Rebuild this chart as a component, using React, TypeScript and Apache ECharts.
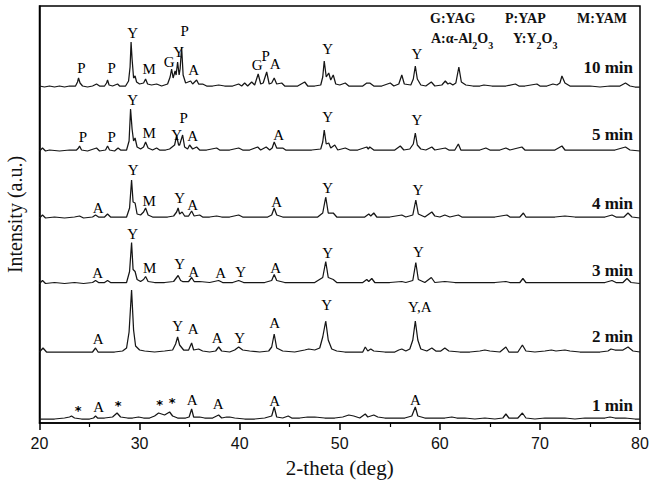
import React, { useEffect, useRef } from "react";
import * as echarts from "echarts";

// sample names (bottom to top)
const sampleNames = ["1 min", "2 min", "3 min", "4 min", "5 min", "10 min"];

// XRD traces: [2-theta (deg), intensity above the trace's own baseline (a.u.)]
const trace1min: [number, number][] = [
  [20.0, 0], [20.5, 0], [21.5, 0], [22.5, 1], [23.0, 2], [23.2, 3], [23.5, 1], [24.2, 0], [25.0, 0], [25.4, 1], [25.6, 3], [25.8, 1],
  [26.5, 1], [27.3, 2], [27.75, 6], [28.1, 2], [28.8, 1], [29.3, 1], [29.9, 2], [30.4, 1], [31.0, 1], [31.5, 3], [31.9, 6], [32.2, 5],
  [32.5, 4], [33.0, 7], [33.3, 3], [33.8, 1], [34.6, 1], [34.95, 2], [35.2, 10], [35.4, 2], [36.0, 2], [36.5, 1], [37.3, 1], [37.9, 4],
  [38.2, 1], [38.7, 2], [39.0, 2], [39.5, 1], [40.5, 0], [41.5, 0], [42.5, 1], [43.2, 3], [43.45, 12], [43.7, 2], [44.3, 1], [44.85, 3],
  [45.2, 1], [46.0, 1], [46.8, 2], [47.5, 2], [48.5, 1], [49.5, 1], [50.3, 2], [50.9, 4], [51.4, 3], [52.0, 1], [52.55, 5], [52.8, 2],
  [53.4, 4], [53.8, 2], [54.5, 1], [55.5, 1], [56.5, 1], [57.2, 3], [57.55, 12], [57.8, 3], [58.5, 1], [59.5, 1], [60.5, 1], [61.2, 2],
  [61.7, 1], [62.5, 1], [63.5, 0], [64.5, 1], [65.5, 0], [66.3, 1], [66.6, 5], [66.9, 1], [67.8, 1], [68.25, 6], [68.6, 1], [69.5, 0],
  [70.5, 1], [71.5, 1], [72.5, 1], [73.5, 0], [74.5, 1], [75.5, 1], [76.5, 1], [77.0, 2], [77.5, 1], [78.5, 1], [79.5, 0], [80.0, 0],
];
const trace2min: [number, number][] = [
  [20.0, 0], [20.35, 4], [20.7, 0], [21.5, 0], [22.5, 0], [23.5, 0], [24.5, 0], [25.3, 0], [25.6, 4], [25.85, 0], [26.5, 0], [27.5, 0],
  [28.3, 1], [28.7, 4], [28.95, 20], [29.2, 62], [29.4, 22], [29.6, 6], [30.0, 2], [30.5, 1], [31.5, 0], [32.5, 1], [33.3, 2], [33.6, 8],
  [33.8, 15], [34.0, 7], [34.4, 2], [34.9, 2], [35.2, 9], [35.4, 2], [35.9, 3], [36.3, 1], [37.0, 0], [37.6, 1], [37.9, 5], [38.2, 1],
  [39.0, 0], [39.5, 2], [39.9, 5], [40.3, 2], [41.0, 1], [42.0, 0], [42.9, 1], [43.2, 5], [43.45, 18], [43.7, 4], [44.3, 1], [45.5, 0],
  [46.5, 2], [46.9, 3], [47.5, 2], [48.0, 4], [48.3, 15], [48.6, 31], [48.85, 12], [49.2, 3], [49.7, 1], [50.5, 0], [51.5, 0], [52.3, 0],
  [52.55, 5], [52.8, 1], [53.1, 3], [53.4, 1], [54.5, 0], [55.5, 0], [55.9, 2], [56.2, 3], [56.6, 1], [57.0, 3], [57.3, 12], [57.55, 31],
  [57.8, 12], [58.1, 3], [58.7, 1], [59.2, 4], [59.6, 1], [60.1, 1], [60.5, 4], [60.9, 1], [62.0, 0], [63.0, 0], [64.0, 1], [64.5, 2],
  [65.0, 1], [66.0, 0], [66.6, 5], [66.9, 0], [67.8, 0], [68.25, 7], [68.6, 1], [69.5, 0], [70.5, 1], [71.15, 2], [71.6, 1], [72.5, 2],
  [73.0, 1], [74.0, 0], [75.0, 0], [76.0, 0], [76.8, 1], [77.1, 3], [77.5, 2], [78.3, 2], [78.8, 5], [79.3, 1], [80.0, 0],
];
const trace3min: [number, number][] = [
  [20.0, 0], [20.3, 3], [20.6, 0], [21.5, 1], [22.5, 0], [23.5, 1], [24.4, 0], [25.3, 1], [25.6, 3], [25.9, 1], [26.5, 1], [26.8, 3],
  [27.1, 1], [28.0, 1], [28.7, 1], [29.0, 12], [29.2, 41], [29.35, 14], [29.55, 12], [29.75, 4], [30.1, 2], [30.4, 4], [30.6, 7],
  [30.85, 2], [31.5, 1], [32.5, 1], [33.4, 2], [33.85, 8], [34.1, 3], [34.3, 2], [34.9, 2], [35.2, 6], [35.45, 2], [36.0, 2], [37.0, 1],
  [37.9, 3], [38.3, 1], [39.3, 1], [39.9, 3], [40.4, 1], [41.5, 1], [42.5, 1], [43.2, 3], [43.45, 9], [43.7, 3], [44.5, 1], [45.5, 1],
  [46.5, 1], [47.5, 1], [48.3, 6], [48.6, 22], [48.85, 6], [49.35, 4], [49.7, 1], [50.5, 1], [51.5, 1], [52.3, 1], [52.7, 4], [52.9, 2],
  [53.2, 5], [53.5, 1], [55.0, 1], [56.2, 2], [56.6, 1], [57.3, 3], [57.6, 21], [57.85, 4], [58.5, 1], [59.15, 6], [59.5, 1], [60.5, 2],
  [61.5, 1], [62.5, 1], [63.5, 1], [64.5, 1], [65.5, 1], [66.6, 2], [67.0, 1], [68.0, 1], [68.3, 5], [68.6, 1], [69.5, 1], [70.5, 1],
  [71.5, 1], [72.5, 1], [73.5, 1], [74.5, 1], [75.5, 1], [76.5, 1], [77.2, 3], [77.6, 1], [78.3, 1], [78.7, 5], [79.1, 1], [80.0, 0],
];
const trace4min: [number, number][] = [
  [20.0, 0], [20.3, 3], [20.6, 0], [21.5, 1], [22.5, 0], [23.5, 1], [24.0, 2], [24.4, 0], [25.3, 1], [25.6, 3], [25.9, 1], [26.5, 1],
  [26.8, 4], [27.1, 1], [28.0, 1], [28.7, 1], [29.0, 10], [29.2, 38], [29.35, 16], [29.55, 15], [29.75, 4], [30.1, 3], [30.4, 6],
  [30.6, 10], [30.85, 3], [31.3, 1], [32.0, 1], [32.8, 1], [33.4, 2], [33.7, 6], [33.85, 10], [34.0, 4], [34.25, 6], [34.5, 2], [34.9, 2],
  [35.2, 7], [35.45, 2], [36.0, 3], [36.3, 1], [37.0, 1], [37.7, 2], [38.2, 1], [39.0, 1], [39.9, 3], [40.3, 1], [41.0, 1], [42.0, 1],
  [42.8, 1], [43.2, 3], [43.45, 10], [43.7, 3], [44.3, 1], [45.0, 1], [46.0, 1], [47.0, 1], [47.8, 1], [48.3, 5], [48.6, 21], [48.85, 5],
  [49.35, 5], [49.7, 1], [50.5, 1], [51.5, 1], [52.5, 1], [52.9, 4], [53.1, 2], [53.4, 5], [53.7, 1], [55.0, 1], [56.2, 3], [56.6, 1],
  [57.3, 3], [57.6, 18], [57.85, 4], [58.5, 1], [59.2, 6], [59.5, 2], [60.0, 1], [60.5, 3], [61.0, 1], [61.85, 3], [62.2, 1], [63.5, 1],
  [64.5, 1], [65.5, 1], [66.7, 3], [67.0, 1], [68.0, 1], [68.35, 5], [68.6, 1], [69.5, 1], [70.5, 1], [71.5, 1], [72.5, 2], [73.5, 1],
  [74.5, 1], [75.5, 1], [76.5, 1], [77.2, 3], [77.6, 1], [78.4, 1], [78.8, 5], [79.2, 1], [80.0, 0],
];
const trace5min: [number, number][] = [
  [20.0, 0], [20.3, 3], [20.6, 0], [21.0, 1], [22.0, 0], [23.0, 1], [23.7, 1], [23.9, 3], [24.0, 5], [24.2, 1], [24.8, 0], [25.7, 3],
  [26.0, 0], [26.6, 1], [26.8, 5], [27.0, 1], [27.5, 0], [27.85, 3], [28.1, 1], [28.7, 1], [28.95, 10], [29.1, 42], [29.25, 22],
  [29.4, 10], [29.55, 13], [29.75, 4], [30.1, 2], [30.4, 4], [30.6, 9], [30.85, 3], [31.3, 1], [31.7, 3], [32.0, 1], [32.6, 1], [33.0, 2],
  [33.5, 6], [33.7, 15], [33.9, 6], [34.0, 6], [34.3, 16], [34.5, 4], [34.8, 2], [35.0, 6], [35.3, 2], [35.7, 4], [36.0, 1], [36.7, 1],
  [37.7, 3], [38.0, 1], [39.0, 1], [39.9, 3], [40.3, 1], [41.0, 1], [41.8, 4], [42.1, 1], [42.65, 4], [43.0, 1], [43.25, 3], [43.45, 9],
  [43.7, 3], [44.3, 3], [44.6, 1], [45.5, 1], [46.5, 1], [47.2, 1], [48.1, 2], [48.3, 9], [48.45, 21], [48.65, 7], [48.9, 8], [49.1, 3],
  [49.5, 6], [49.8, 1], [50.55, 3], [51.0, 1], [51.8, 1], [52.7, 4], [52.85, 2], [53.0, 4], [53.4, 1], [54.5, 1], [55.5, 1], [56.05, 5],
  [56.4, 1], [57.0, 2], [57.35, 7], [57.55, 18], [57.75, 6], [58.1, 2], [58.6, 1], [59.2, 4], [59.5, 1], [60.55, 3], [60.9, 1], [61.5, 1],
  [61.85, 7], [62.1, 1], [63.0, 1], [64.0, 1], [64.6, 3], [65.0, 1], [66.0, 1], [66.6, 3], [67.0, 1], [68.2, 4], [68.5, 1], [69.5, 1],
  [70.5, 1], [71.5, 1], [72.2, 5], [72.5, 1], [73.5, 1], [74.5, 1], [75.5, 1], [76.5, 1], [77.5, 1], [78.55, 4], [79.0, 1], [80.0, 0],
];
const trace10min: [number, number][] = [
  [20.0, 1], [20.5, 0], [21.0, 1], [21.5, 0], [22.0, 1], [22.5, 0], [23.0, 1], [23.6, 1], [23.8, 5], [23.9, 9], [24.05, 4], [24.3, 1],
  [24.8, 0], [25.3, 1], [25.7, 3], [26.0, 1], [26.5, 1], [26.7, 4], [26.8, 7], [26.95, 2], [27.3, 1], [27.8, 3], [28.0, 1], [28.6, 1],
  [28.9, 6], [29.05, 20], [29.15, 45], [29.25, 28], [29.4, 9], [29.55, 11], [29.7, 5], [30.0, 3], [30.4, 4], [30.6, 8], [30.8, 3],
  [31.2, 2], [31.7, 3], [32.2, 1], [32.8, 3], [33.05, 10], [33.2, 18], [33.35, 9], [33.55, 16], [33.65, 12], [33.8, 25], [33.95, 12],
  [34.05, 18], [34.2, 40], [34.35, 12], [34.6, 4], [35.1, 6], [35.3, 3], [35.7, 7], [35.9, 3], [36.3, 3], [36.7, 1], [37.3, 1], [37.9, 2],
  [38.5, 1], [39.3, 1], [39.9, 3], [40.2, 1], [40.5, 4], [40.8, 1], [41.2, 5], [41.5, 2], [41.85, 13], [42.1, 3], [42.35, 4], [42.7, 15],
  [42.95, 3], [43.2, 4], [43.45, 9], [43.7, 3], [44.2, 4], [44.5, 1], [45.2, 1], [45.8, 1], [46.5, 5], [46.8, 1], [47.5, 1], [48.1, 2],
  [48.3, 10], [48.45, 26], [48.65, 10], [48.9, 14], [49.1, 7], [49.35, 12], [49.6, 3], [50.0, 2], [50.55, 4], [50.9, 1], [51.6, 1],
  [52.3, 1], [52.7, 4], [53.0, 4], [53.4, 1], [54.2, 1], [55.05, 4], [55.4, 1], [55.9, 3], [56.2, 12], [56.45, 3], [57.1, 2], [57.35, 8],
  [57.55, 21], [57.75, 8], [58.1, 2], [58.6, 1], [59.15, 5], [59.5, 1], [60.2, 2], [60.55, 6], [60.8, 3], [61.0, 4], [61.3, 2], [61.6, 4],
  [61.9, 20], [62.15, 5], [62.6, 2], [63.3, 1], [64.0, 1], [64.4, 2], [65.2, 1], [66.0, 1], [66.6, 1], [67.55, 3], [67.9, 1], [68.5, 1],
  [69.7, 3], [70.0, 1], [70.7, 1], [71.3, 3], [71.7, 2], [72.0, 4], [72.2, 11], [72.5, 4], [73.0, 1], [74.0, 1], [75.0, 1], [76.0, 0],
  [77.0, 1], [78.0, 1], [78.55, 4], [79.0, 1], [79.5, 0], [80.0, 0],
];
const traces = [trace1min, trace2min, trace3min, trace4min, trace5min, trace10min];

// vertical stacking offset of each trace (a.u.)
const offsets = [4, 71, 139.5, 205, 272, 336];

// phase labels: [2-theta, height above trace baseline, label]
const labels1min: [number, number, string][] = [
  [23.85, 9, "*"], [25.9, 12, "A"], [27.85, 14, "*"], [32.0, 15, "*"], [33.25, 17, "*"], [35.25, 19, "A"], [37.85, 15, "A"],
  [43.5, 18, "A"], [57.55, 19, "A"],
];
const labels2min: [number, number, string][] = [
  [25.85, 13, "A"], [33.8, 26, "Y"], [35.35, 23, "A"], [37.75, 14, "A"], [40.0, 14, "Y"], [43.5, 29, "A"], [48.7, 47, "Y"],
  [58.0, 45, "Y,A"],
];
const labels3min: [number, number, string][] = [
  [25.8, 11, "A"], [29.3, 50, "Y"], [31.0, 16, "M"], [34.0, 20, "Y"], [35.4, 12, "A"], [38.1, 11, "A"], [40.1, 12, "Y"],
  [43.6, 16, "A"], [48.8, 31, "Y"], [57.85, 32, "Y"],
];
const labels4min: [number, number, string][] = [
  [25.85, 10, "A"], [29.35, 48, "Y"], [30.95, 17, "M"], [34.0, 20, "Y"], [35.3, 13, "A"], [43.7, 16, "A"], [48.8, 30, "Y"],
  [57.8, 28, "Y"],
];
const labels5min: [number, number, string][] = [
  [24.35, 14, "P"], [27.2, 14, "P"], [29.3, 51, "Y"], [30.95, 18, "M"], [33.7, 16, "Y"], [34.4, 33, "P"], [35.3, 15, "A"],
  [43.9, 16, "A"], [48.8, 34, "Y"], [57.7, 31, "Y"],
];
const labels10min: [number, number, string][] = [
  [24.2, 19, "P"], [27.2, 19, "P"], [29.3, 54, "Y"], [30.95, 18, "M"], [32.95, 25, "G"], [33.9, 35, "Y"], [34.5, 56, "P"],
  [35.4, 17, "A"], [41.75, 22, "G"], [42.6, 31, "P"], [43.55, 23, "A"], [48.8, 38, "Y"], [57.7, 33, "Y"],
];
const labelSets = [labels1min, labels2min, labels3min, labels4min, labels5min, labels10min];

// height of each sample name above its baseline
const nameHeights = [14, 16, 13, 15, 17, 20];

const xTicks = [20, 30, 40, 50, 60, 70, 80];

const SERIF = '"Liberation Serif", "Times New Roman", serif';

export default function App() {
  const ref = useRef<HTMLDivElement>(null);
  useEffect(() => {
    if (!ref.current) return;
    const chart = echarts.init(ref.current, undefined, { renderer: "svg" });

    const lineSeries = traces.map((tr, i) => ({
      type: "line",
      name: sampleNames[i],
      data: tr.map(([x, y]) => [x, y + offsets[i]]),
      showSymbol: false,
      symbol: "none",
      lineStyle: { color: "#161616", width: 1.25 },
      silent: true,
      z: 2,
    }));

    const peakLabelData: { pos: [number, number]; text: string; star: boolean }[] = [];
    labelSets.forEach((set, i) => {
      set.forEach(([x, h, t]) => {
        peakLabelData.push({ pos: [x, h + offsets[i]], text: t, star: t === "*" });
      });
    });

    const peakLabelSeries = {
      type: "custom",
      silent: true,
      data: peakLabelData.map((d) => d.pos),
      renderItem: (params: any, api: any) => {
        const d = peakLabelData[params.dataIndex];
        const p = api.coord([api.value(0), api.value(1)]);
        return {
          type: "text",
          x: p[0],
          y: p[1],
          style: {
            text: d.text,
            textAlign: "center",
            textVerticalAlign: "middle",
            font: d.star ? `bold 13px "DejaVu Sans", sans-serif` : `15px ${SERIF}`,
            fill: "#000",
          },
        };
      },
      z: 3,
    };

    const nameData = sampleNames.map((n, i) => [79.3, offsets[i] + nameHeights[i]]);
    const nameSeries = {
      type: "custom",
      silent: true,
      data: nameData,
      renderItem: (params: any, api: any) => {
        const p = api.coord([api.value(0), api.value(1)]);
        return {
          type: "text",
          x: p[0],
          y: p[1],
          style: {
            text: sampleNames[params.dataIndex],
            textAlign: "right",
            textVerticalAlign: "middle",
            font: `bold 17px ${SERIF}`,
            fill: "#111",
          },
        };
      },
      z: 3,
    };

    const legendFont = `bold 14px ${SERIF}`;
    chart.setOption({
      animation: false,
      backgroundColor: "#fff",
      grid: {
        left: 39.5,
        right: 11,
        top: 6,
        bottom: 58,
        outerBoundsMode: "none",
        containLabel: false,
        show: true,
        borderColor: "#000",
        borderWidth: 1.5,
        backgroundColor: "transparent",
      },
      xAxis: {
        type: "value",
        min: xTicks[0],
        max: xTicks[xTicks.length - 1],
        interval: 10,
        axisLine: { show: true, lineStyle: { color: "#000", width: 1.5 } },
        axisTick: { show: true, inside: false, length: 7, lineStyle: { color: "#000", width: 1.5 } },
        minorTick: { show: true, splitNumber: 2, length: 4, lineStyle: { color: "#000", width: 1.2 } },
        splitLine: { show: false },
        axisLabel: {
          fontFamily: '"Liberation Sans", Arial, sans-serif',
          fontSize: 16,
          color: "#111",
          margin: 12,
        },
        name: "2-theta (deg)",
        nameLocation: "middle",
        nameGap: 34,
        nameTextStyle: { fontFamily: SERIF, fontSize: 21, color: "#111" },
      },
      yAxis: {
        type: "value",
        min: 0,
        max: 417,
        axisLine: { show: true, lineStyle: { color: "#000", width: 1.5 } },
        axisTick: { show: false },
        axisLabel: { show: false },
        splitLine: { show: false },
        name: "Intensity (a.u.)",
        nameLocation: "middle",
        nameGap: 15,
        nameTextStyle: { fontFamily: SERIF, fontSize: 20, color: "#111" },
      },
      graphic: [
        { type: "text", left: 430, top: 11, style: { text: "G:YAG", font: legendFont, fill: "#111" } },
        { type: "text", left: 505, top: 11, style: { text: "P:YAP", font: legendFont, fill: "#111" } },
        { type: "text", left: 577, top: 11, style: { text: "M:YAM", font: legendFont, fill: "#111" } },
        {
          type: "text",
          left: 431,
          top: 31,
          style: {
            text: "{n|A:α-Al}{s|2}{n|O}{s|3}",
            rich: {
              n: { font: legendFont, fill: "#111", verticalAlign: "top", lineHeight: 18 },
              s: { font: `bold 10px ${SERIF}`, fill: "#111", padding: [9, 0, 0, 0], lineHeight: 18 },
            },
          },
        },
        {
          type: "text",
          left: 513,
          top: 31,
          style: {
            text: "{n|Y:Y}{s|2}{n|O}{s|3}",
            rich: {
              n: { font: legendFont, fill: "#111", verticalAlign: "top", lineHeight: 18 },
              s: { font: `bold 10px ${SERIF}`, fill: "#111", padding: [9, 0, 0, 0], lineHeight: 18 },
            },
          },
        },
      ],
      series: [...lineSeries, peakLabelSeries, nameSeries],
    });
    return () => chart.dispose();
  }, []);
  return (
    <div
      ref={ref}
      style={{ position: "absolute", left: 0, top: 0, width: 651, height: 481, background: "#fff" }}
    />
  );
}
